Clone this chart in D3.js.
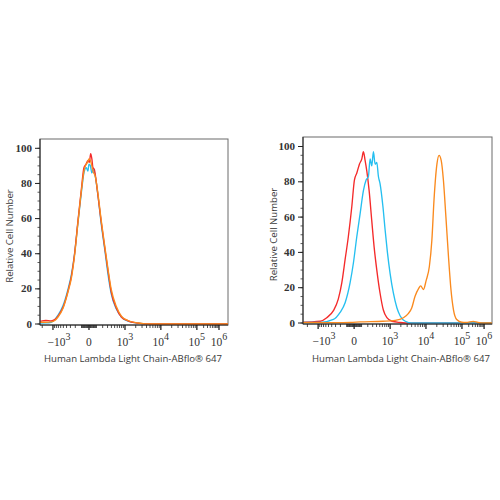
<!DOCTYPE html>
<html>
<head>
<meta charset="utf-8">
<script src="https://cdn.jsdelivr.net/npm/d3@7/dist/d3.min.js"></script>
<style>
  html, body { margin: 0; padding: 0; background: #fff; }
  svg { display: block; }
</style>
</head>
<body>
<svg id="chart" width="500" height="500"></svg>
<script>
// ---------- DATA (x in display units of the biexponential axis, y = % of max) ----------
// Left panel
const leftRedX    = [-1.36,-1.30,-1.20,-1.05,-0.95,-0.86,-0.72,-0.58,-0.49,-0.40,-0.31,-0.21,-0.14,-0.08,-0.03,0.01,0.047,0.08,0.11,0.15,0.175,0.25,0.34,0.44,0.53,0.62,0.76,0.90,1.08,1.36,1.55,2.0,3.0,3.86];
const leftRedY    = [1.5,1.8,2.0,1.8,2.5,4.5,9.5,19,27,40,58,77,89,91,93,92,97,94,89,88,85,73,58,43,30,18,9,4,1.8,0.5,0.1,0,0,0];
const leftOrangeX = [-1.36,-1.20,-1.05,-0.95,-0.86,-0.72,-0.58,-0.49,-0.40,-0.31,-0.21,-0.14,-0.075,-0.04,0.0,0.04,0.08,0.11,0.175,0.25,0.34,0.44,0.53,0.62,0.76,0.90,1.08,1.36,1.55,2.0,3.0,3.86];
const leftOrangeY = [1.0,1.0,1.2,2,4,9,18.5,26,39,57,76,87,91,92,94,93,90,87,84,74,59,44,31,19.5,10,4.5,2,0.6,0.1,0,0,0];
const leftCyanX   = [-1.36,-1.20,-1.05,-0.95,-0.86,-0.72,-0.58,-0.49,-0.40,-0.31,-0.21,-0.14,-0.075,-0.03,0.0,0.04,0.08,0.12,0.175,0.25,0.34,0.44,0.53,0.62,0.76,0.90,1.08,1.36,1.55,2.0,3.0,3.86];
const leftCyanY   = [0.5,0.6,1.0,2.5,5,10.5,20,28,40,57,75,86,89,87,91,90,86,88,84,73,57,42,28,17,8.5,4,1.6,0.5,0.1,0,0,0];

// Right panel
const rightRedX    = [-1.42,-1.2,-0.94,-0.76,-0.575,-0.44,-0.34,-0.25,-0.16,-0.064,0.008,0.075,0.147,0.214,0.258,0.306,0.353,0.417,0.49,0.556,0.63,0.72,0.81,0.91,1.05,1.28,1.56,2.5,3.83];
const rightRedY    = [0.5,0.6,1,3,7,13.5,23,36,49,66,81,85,90,93,97,92,86,75,58,43,30,17,7.5,3,1,0.3,0,0,0];
const rightCyanX   = [-1.42,-0.94,-0.575,-0.39,-0.25,-0.11,-0.02,0.075,0.167,0.258,0.333,0.397,0.444,0.49,0.536,0.583,0.63,0.675,0.72,0.80,0.86,0.925,1.0,1.09,1.19,1.28,1.42,1.6,2.5,3.83];
const rightCyanY   = [0.3,0.3,2,6,11.5,23,34,49,62,75,81,83,93,89,97,90,91,83,79,66,53,40,28,17,8.5,4,1,0,0,0];
const rightOrangeX = [-1.42,-0.5,-0.11,0.17,0.8,1.14,1.37,1.51,1.60,1.69,1.79,1.85,1.925,2.0,2.09,2.16,2.22,2.30,2.36,2.42,2.48,2.55,2.62,2.69,2.76,2.85,2.99,3.11,3.31,3.44,3.64,3.83];
const rightOrangeY = [0.2,0.2,0.3,0.6,1,1.5,3,5.5,8.5,15,19.5,21,19,24,32,47,70,90,95,92,81,60,38,19,7.5,2,0.4,0.3,0.9,0.3,0,0];

// Axis ticks
const yMajorTicks = [0, 20, 40, 60, 80, 100];
const xMajorValues = [-1000, 0, 1000, 10000, 100000, 1000000];
const xMajorLabels = [["−", "10", "3"], ["", "0", ""], ["", "10", "3"], ["", "10", "4"], ["", "10", "5"], ["", "10", "6"]];
const minorMultipliers = [1,2,3,4,5,6,7,8,9];
const xTitle = "Human Lambda Light Chain-ABflo® 647";
const yTitle = "Relative Cell Number";

const colors = { red: "#f42a2a", cyan: "#25bff0", orange: "#fa8a1e" };

// ---------- axis transform (biexponential-like display) ----------
function tf(v) {
  if (v > 100000) return 3 + 0.61 * Math.log10(v / 100000);
  return Math.sign(v) * Math.asinh(Math.abs(v) / 202) / Math.LN10;
}

const panels = [
  { left: 40, right: 228, top: 139, bottom: 325, y0: 324, y100: 148.3, dom: [-1.36, 3.86],
    titleX: 133, yTitleX: 13,
    series: [
      { x: leftCyanX, y: leftCyanY, c: colors.cyan },
      { x: leftRedX, y: leftRedY, c: colors.red },
      { x: leftOrangeX, y: leftOrangeY, c: colors.orange }
    ] },
  { left: 303, right: 492, top: 137, bottom: 324, y0: 323, y100: 146.5, dom: [-1.42, 3.83],
    titleX: 401, yTitleX: 277,
    series: [
      { x: rightRedX, y: rightRedY, c: colors.red },
      { x: rightCyanX, y: rightCyanY, c: colors.cyan },
      { x: rightOrangeX, y: rightOrangeY, c: colors.orange }
    ] }
];

const svg = d3.select("#chart");

// minor tick values
const minorVals = [];
[10, 100].forEach(d => minorMultipliers.forEach(m => { minorVals.push(m * d); minorVals.push(-m * d); }));
[1000].forEach(d => minorMultipliers.slice(1).forEach(m => minorVals.push(-m * d)));
[1000, 10000, 100000].forEach(d => minorMultipliers.slice(1).forEach(m => minorVals.push(m * d)));

panels.forEach((p, i) => {
  const xs = d3.scaleLinear().domain(p.dom).range([p.left, p.right]);
  const ys = d3.scaleLinear().domain([0, 100]).range([p.y0, p.y100]);
  const g = svg.append("g");

  const clipId = "clip" + i;
  svg.append("defs").append("clipPath").attr("id", clipId)
    .append("rect").attr("x", p.left).attr("y", p.top)
    .attr("width", p.right - p.left).attr("height", p.bottom - p.top);

  // frame
  g.append("rect").attr("x", p.left).attr("y", p.top)
    .attr("width", p.right - p.left).attr("height", p.bottom - p.top)
    .attr("fill", "none").attr("stroke", "#6a6a6a").attr("stroke-width", 1);

  // curves
  const line = d3.line().x(d => xs(d[0])).y(d => ys(d[1])).curve(d3.curveMonotoneX);
  const cg = g.append("g").attr("clip-path", `url(#${clipId})`);
  p.series.forEach(s => {
    cg.append("path").datum(s.x.map((v, k) => [v, s.y[k]]))
      .attr("d", line).attr("fill", "none").attr("stroke", s.c)
      .attr("stroke-width", 1.35).attr("stroke-linejoin", "round");
  });

  // axes lines
  g.append("line").attr("x1", p.left).attr("x2", p.left).attr("y1", p.top).attr("y2", p.bottom)
    .attr("stroke", "#222").attr("stroke-width", 1);
  g.append("line").attr("x1", p.left).attr("x2", p.right).attr("y1", p.bottom).attr("y2", p.bottom)
    .attr("stroke", "#222").attr("stroke-width", 1);

  // y ticks
  const yMinor = d3.range(0, 105, 5);
  g.selectAll(".ymin").data(yMinor).join("line")
    .attr("x1", p.left - 2.5).attr("x2", p.left)
    .attr("y1", d => ys(d)).attr("y2", d => ys(d))
    .attr("stroke", "#333").attr("stroke-width", 0.8);
  g.selectAll(".ymaj").data(yMajorTicks).join("line")
    .attr("x1", p.left - 5).attr("x2", p.left)
    .attr("y1", d => ys(d)).attr("y2", d => ys(d))
    .attr("stroke", "#222").attr("stroke-width", 1);
  g.selectAll(".ylab").data(yMajorTicks).join("text")
    .attr("x", p.left - 8).attr("y", d => ys(d) + 3.6)
    .attr("text-anchor", "end")
    .attr("font-family", "'Liberation Serif', serif").attr("font-size", 11)
    .attr("font-weight", "bold").attr("fill", "#333")
    .text(d => d);

  // x minor ticks
  g.selectAll(".xmin").data(minorVals.filter(v => tf(v) > p.dom[0] && tf(v) < p.dom[1])).join("line")
    .attr("x1", d => xs(tf(d))).attr("x2", d => xs(tf(d)))
    .attr("y1", p.bottom).attr("y2", p.bottom + 3)
    .attr("stroke", "#222").attr("stroke-width", 0.8);
  g.selectAll(".xmaj").data(xMajorValues).join("line")
    .attr("x1", d => xs(tf(d))).attr("x2", d => xs(tf(d)))
    .attr("y1", p.bottom).attr("y2", p.bottom + 5)
    .attr("stroke", "#111").attr("stroke-width", 1.2);

  // x labels
  xMajorValues.forEach((v, k) => {
    const lab = xMajorLabels[k];
    const t = g.append("text")
      .attr("x", xs(tf(v)) + (lab[0] ? 6 : 0)).attr("y", p.bottom + 21)
      .attr("text-anchor", "middle")
      .attr("font-family", "'Liberation Serif', serif").attr("font-size", 11.5)
      .attr("fill", "#333");
    if (lab[0]) t.append("tspan").text(lab[0]);
    t.append("tspan").text(lab[1]);
    if (lab[2]) t.append("tspan").attr("dy", -6).attr("font-size", 10).text(lab[2]);
  });

  // titles
  g.append("text").attr("x", p.titleX).attr("y", 362)
    .attr("text-anchor", "middle").attr("font-family", "'Open Sans', sans-serif")
    .attr("font-size", 9.6).attr("fill", "#3a3a3a").text(xTitle);
  g.append("text")
    .attr("transform", `translate(${p.yTitleX},${(p.top + p.bottom) / 2 + 4}) rotate(-90)`)
    .attr("text-anchor", "middle").attr("font-family", "'Open Sans', sans-serif")
    .attr("font-size", 9.6).attr("fill", "#3a3a3a").text(yTitle);
});
</script>
</body>
</html>
